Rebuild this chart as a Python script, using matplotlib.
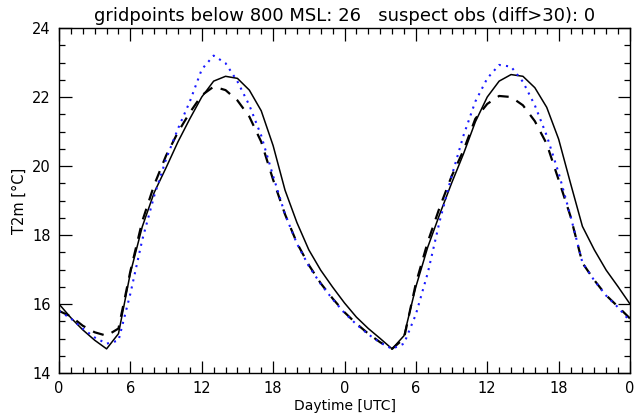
import matplotlib
matplotlib.use("Agg")
import matplotlib.pyplot as plt
from matplotlib.ticker import MultipleLocator

hours = list(range(49))

# solid black
t_solid = [16.0, 15.6, 15.25, 14.95, 14.7, 15.14, 16.9, 18.24, 19.23, 19.95, 20.7, 21.37, 22.0,
           22.46, 22.6, 22.54, 22.2, 21.6, 20.59, 19.3, 18.36, 17.57, 16.98, 16.49, 16.03,
           15.62, 15.29, 15.0, 14.7, 15.08, 16.5, 17.65, 18.6, 19.5, 20.35, 21.28, 22.0,
           22.46, 22.65, 22.6, 22.27, 21.7, 20.78, 19.5, 18.25, 17.57, 16.98, 16.5, 16.0]
# dashed black
t_dashed = [15.8, 15.64, 15.37, 15.18, 15.08, 15.29, 16.95, 18.4, 19.45, 20.3, 20.98, 21.55, 22.05,
            22.3, 22.2, 21.9, 21.43, 20.7, 19.6, 18.6, 17.77, 17.13, 16.6, 16.16, 15.76,
            15.43, 15.14, 14.89, 14.7, 15.0, 16.6, 17.8, 18.8, 19.7, 20.45, 21.37, 21.8,
            22.03, 22.0, 21.76, 21.3, 20.64, 19.6, 18.54, 17.19, 16.69, 16.25, 15.92, 15.58]
# dotted blue
t_dotted = [15.8, 15.58, 15.29, 15.03, 14.85, 14.94, 16.3, 17.86, 19.13, 20.2, 21.08, 21.87, 22.8,
            23.2, 22.98, 22.45, 21.76, 20.88, 19.71, 18.6, 17.75, 17.1, 16.58, 16.14, 15.74,
            15.41, 15.12, 14.88, 14.7, 14.85, 15.7, 16.9, 18.4, 19.7, 20.88, 21.87, 22.54,
            22.93, 22.88, 22.44, 21.76, 20.88, 19.8, 18.55, 17.2, 16.68, 16.24, 15.9, 15.5]

xtick_pos = list(range(0, 49, 6))
xtick_labels = ["0", "6", "12", "18", "0", "6", "12", "18", "0"]

fig = plt.figure(figsize=(6.35, 4.17), dpi=100)
ax = fig.add_axes([59/635, 1-373/417, (630-59)/635, (373-28)/417])

ax.plot(hours, t_solid, color="black", lw=1.1, ls="-")
ax.plot(hours, t_dashed, color="black", lw=1.6, ls=(0, (5, 4)))
ax.plot(hours, t_dotted, color="#1a1aff", lw=1.5, ls=(0, (1, 2.5)))

ax.set_xlim(0, 48)
ax.set_ylim(14, 24)
ax.set_xticks(xtick_pos)
ax.set_xticklabels(xtick_labels)
ax.set_yticks([14, 16, 18, 20, 22, 24])
ax.xaxis.set_minor_locator(MultipleLocator(1))
ax.yaxis.set_minor_locator(MultipleLocator(0.5))
ax.tick_params(which="both", direction="in", top=True, right=True, labelsize=10.5, colors="black", width=0.9)
ax.tick_params(axis="x", which="major", length=9, pad=6)
ax.tick_params(axis="y", which="major", length=9, pad=6)
ax.tick_params(which="minor", length=4)
for s in ax.spines.values():
    s.set_linewidth(1.0)

ax.set_xlabel("Daytime [UTC]", fontsize=10, labelpad=2)
ax.set_ylabel("T2m [°C]", fontsize=10.5, labelpad=4)
ax.set_title("gridpoints below 800 MSL: 26   suspect obs (diff>30): 0", fontsize=13, pad=5)

fig.savefig("out.png", dpi=100)
